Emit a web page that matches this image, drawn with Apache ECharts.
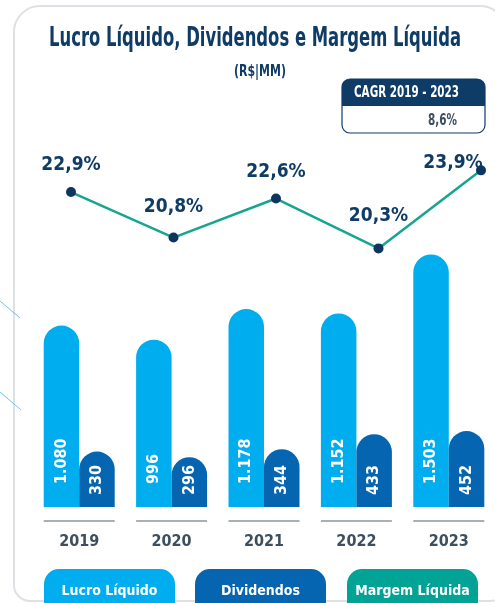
<!DOCTYPE html>
<html>
<head>
<meta charset="utf-8">
<script src="https://cdn.jsdelivr.net/npm/echarts@6/dist/echarts.min.js"></script>
<style>
  html, body { margin: 0; padding: 0; background: #fff; }
  #chart { width: 495px; height: 603px; }
</style>
</head>
<body>
<div id="chart"></div>
<script>
// dados do gráfico
const years = ['2019', '2020', '2021', '2022', '2023'];
const lucro = [1080, 996, 1178, 1152, 1503];        // Lucro Líquido (R$ MM)
const dividendos = [330, 296, 344, 433, 452];       // Dividendos (R$ MM)
const margem = [22.9, 20.8, 22.6, 20.3, 23.9];      // Margem Líquida (%)
const cagrTitle = 'CAGR 2019 - 2023';
const cagrValue = '8,6%';

const FONT = '"Liberation Sans Narrow", "DejaVu Sans Condensed", "Roboto", sans-serif';
const NAVY = '#0f3b67';
const C_LUCRO = '#00adee';
const C_DIV = '#0565b0';
const C_MARGEM = '#00a396';

// deslocamento dos rótulos de % (só estilo)
const pctShift = [[0, 0], [0, -4], [0, 0], [0, -6], [-28, 19]];

const fmtNum = v => String(v).replace(/\B(?=(\d{3})+(?!\d))/g, '.');
const fmtPct = v => v.toFixed(1).replace('.', ',') + '%';

// fonte condensada do original é mais estreita: comprime os textos fixos na horizontal
const measureCtx = document.createElement('canvas').getContext('2d');
function fitScale(text, font, targetWidth) {
    measureCtx.font = font;
    return targetWidth / measureCtx.measureText(text).width;
}
function fixedText(text, x, y, size, targetWidth, fill, align) {
    const font = 'bold ' + size + 'px ' + FONT;
    return {
        type: 'text', x: x, y: y, silent: true,
        scaleX: fitScale(text, font, targetWidth),
        style: { text: text, font: font, fill: fill, align: align || 'center', verticalAlign: 'middle' }
    };
}

const chart = echarts.init(document.getElementById('chart'), null, { renderer: 'canvas' });

const barLabel = (dist) => ({
    show: true,
    position: 'insideBottom',
    rotate: 90,
    align: 'left',
    verticalAlign: 'middle',
    distance: dist,
    color: '#fff',
    fontFamily: FONT,
    fontWeight: 'bold',
    fontSize: 16,
    formatter: p => fmtNum(p.value)
});

const pill = (bg) => ({
    backgroundColor: bg, color: '#fff',
    fontFamily: FONT, fontWeight: 'bold', fontSize: 14,
    width: 131, align: 'center', lineHeight: 18,
    padding: [15, 0, 12, 0], borderRadius: [15, 15, 0, 0]
});

const option = {
    backgroundColor: '#fff',
    animation: false,
    textStyle: { fontFamily: FONT },
    grid: [
        { left: 33, width: 469, top: 253.3, height: 253.7 },   // barras
        { left: 71, width: 410, top: 146.5, height: 216.8 }    // linha
    ],
    xAxis: [
        {
            type: 'category', gridIndex: 0, data: years,
            axisLine: { show: false }, axisTick: { show: false },
            axisLabel: {
                margin: 27, color: '#3d4f5e', fontFamily: FONT,
                fontWeight: 'bold', fontSize: 16
            }
        },
        { type: 'category', gridIndex: 1, data: years, boundaryGap: false, show: false }
    ],
    yAxis: [
        { type: 'value', gridIndex: 0, min: 0, max: 1510, show: false },
        { type: 'value', gridIndex: 1, min: 15, max: 25, show: false }
    ],
    legend: {
        left: 39, top: 569, padding: 0,
        itemWidth: 0, itemHeight: 0, itemGap: 15,
        selectedMode: false,
        data: ['Lucro Líquido', 'Dividendos', 'Margem Líquida'],
        formatter: name => {
            const key = name === 'Lucro Líquido' ? 'l' : (name === 'Dividendos' ? 'd' : 'm');
            return '{' + key + '|' + name + '}';
        },
        textStyle: {
            rich: { l: pill(C_LUCRO), d: pill(C_DIV), m: pill(C_MARGEM) }
        }
    },
    graphic: [
        // moldura do cartão
        {
            type: 'rect', silent: true, z: -10,
            shape: { x: 14, y: 6, width: 492, height: 595, r: [26, 26, 16, 16] },
            style: { fill: 'none', stroke: '#dde1e5', lineWidth: 2 }
        },
        // linhas decorativas
        { type: 'line', shape: { x1: 0, y1: 301, x2: 20, y2: 318 }, style: { stroke: '#6cc6ee', lineWidth: 1 } },
        { type: 'line', shape: { x1: 0, y1: 392, x2: 21, y2: 410 }, style: { stroke: '#6cc6ee', lineWidth: 1 } },
        // título e unidade
        fixedText('Lucro Líquido, Dividendos e Margem Líquida', 255, 39, 26, 412, NAVY),
        fixedText('(R$|MM)', 260, 72, 15, 52, NAVY),
        // caixa CAGR
        {
            type: 'rect', shape: { x: 342, y: 79, width: 143, height: 27, r: [8, 8, 0, 0] },
            style: { fill: NAVY }
        },
        {
            type: 'rect', shape: { x: 342, y: 79, width: 143, height: 54, r: 8 },
            style: { fill: 'none', stroke: NAVY, lineWidth: 1.2 }
        },
        fixedText(cagrTitle, 406.5, 93, 15, 105, '#fff'),
        fixedText(cagrValue, 457, 121, 15, 29, '#3d4f5e', 'right')
    ],
    series: [
        {
            name: 'Lucro Líquido', type: 'bar', xAxisIndex: 0, yAxisIndex: 0,
            data: lucro, barWidth: 35.5, barGap: '0%',
            itemStyle: { color: C_LUCRO, borderRadius: [18, 18, 0, 0] },
            label: barLabel(23)
        },
        {
            name: 'Dividendos', type: 'bar', xAxisIndex: 0, yAxisIndex: 0,
            data: dividendos, barWidth: 35.5, barGap: '0%',
            itemStyle: { color: C_DIV, borderRadius: [18, 18, 0, 0] },
            label: barLabel(12)
        },
        {
            // traço cinza sob cada ano
            type: 'custom', xAxisIndex: 0, yAxisIndex: 0, silent: true,
            data: years.map((y, i) => [i, 0]),
            renderItem: (params, api) => {
                const p = api.coord([api.value(0), 0]);
                return {
                    type: 'line',
                    shape: { x1: p[0] - 35.5, y1: p[1] + 14, x2: p[0] + 35.5, y2: p[1] + 14 },
                    style: { stroke: '#8a96a1', lineWidth: 1.5 }
                };
            }
        },
        {
            name: 'Margem Líquida', type: 'line', xAxisIndex: 1, yAxisIndex: 1,
            data: margem.map((v, i) => ({
                value: v,
                label: { offset: pctShift[i] }
            })),
            z: 5,
            lineStyle: { color: '#17a58f', width: 2.5 },
            symbol: 'circle', symbolSize: 10,
            itemStyle: { color: '#0c3560' },
            label: {
                show: true, position: 'top', distance: 12,
                color: NAVY, fontFamily: FONT, fontWeight: 'bold', fontSize: 19,
                formatter: p => fmtPct(p.value)
            }
        }
    ]
};

chart.setOption(option);
</script>
</body>
</html>
